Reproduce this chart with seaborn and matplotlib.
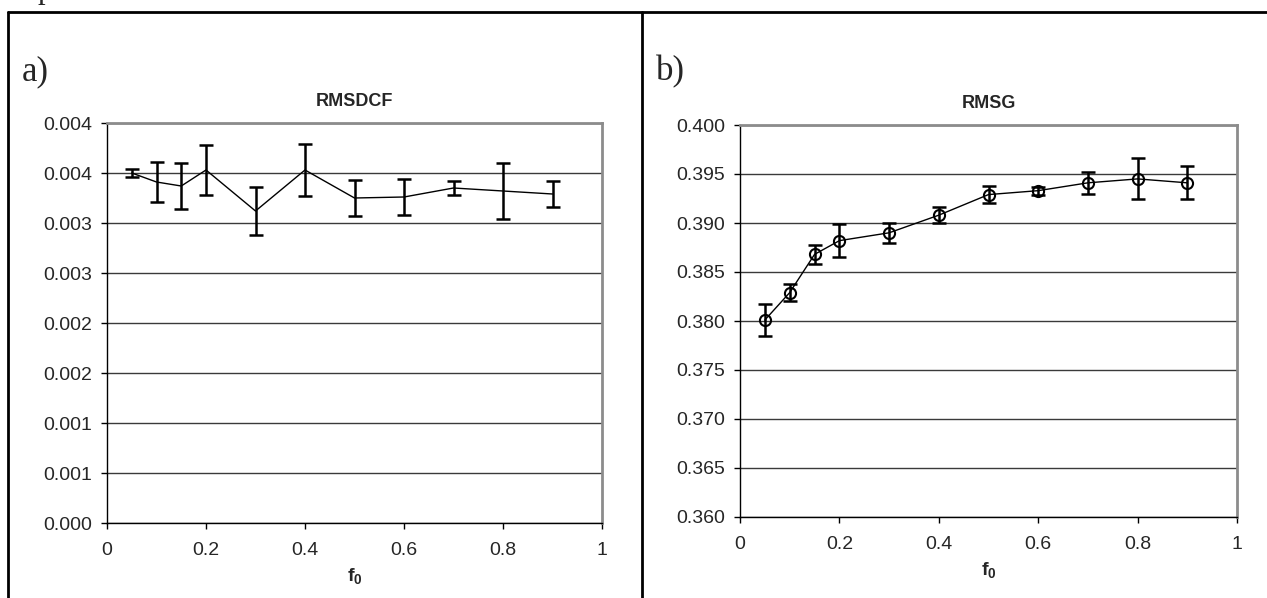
import numpy as np
import pandas as pd
import matplotlib
matplotlib.use("Agg")
import matplotlib.pyplot as plt
from matplotlib.lines import Line2D
import seaborn as sns

# ---------------- data ----------------
f0 = [0.05, 0.10, 0.15, 0.20, 0.30, 0.40, 0.50, 0.60, 0.70, 0.80, 0.90]

rmsdcf = [0.00350, 0.00341, 0.00337, 0.00353, 0.00312, 0.00353,
          0.00325, 0.00326, 0.00335, 0.00332, 0.00329]
rmsdcf_err = [0.00004, 0.00020, 0.00023, 0.00025, 0.00024, 0.00026,
              0.00018, 0.00018, 0.00007, 0.00028, 0.00013]

rmsg = [0.3801, 0.3829, 0.3868, 0.3882, 0.3890, 0.3908,
        0.3929, 0.3933, 0.3941, 0.3945, 0.3941]
rmsg_err = [0.0016, 0.0009, 0.0010, 0.0017, 0.0010, 0.0008,
            0.0009, 0.0004, 0.0011, 0.0021, 0.0017]

x_ticks = [0, 0.2, 0.4, 0.6, 0.8, 1.0]
x_ticklabels = ["0", "0.2", "0.4", "0.6", "0.8", "1"]

a_yticks = [0.0, 0.0005, 0.001, 0.0015, 0.002, 0.0025, 0.003, 0.0035, 0.004]
a_yticklabels = ["0.000", "0.001", "0.001", "0.002", "0.002",
                 "0.003", "0.003", "0.004", "0.004"]

b_yticks = [0.360, 0.365, 0.370, 0.375, 0.380, 0.385, 0.390, 0.395, 0.400]
b_yticklabels = ["0.360", "0.365", "0.370", "0.375", "0.380",
                 "0.385", "0.390", "0.395", "0.400"]

titles = ["RMSDCF", "RMSG"]
panel_labels = ["a)", "b)"]
xlabel = r"$\mathbf{f_0}$"

# ---------------- style ----------------
sns.set_style("white")
plt.rcParams["font.family"] = ["Liberation Sans", "DejaVu Sans"]
plt.rcParams["mathtext.fontset"] = "custom"
plt.rcParams["mathtext.bf"] = "Liberation Sans:bold"
plt.rcParams["mathtext.rm"] = "Liberation Sans"

W, H = 1267, 598
fig = plt.figure(figsize=(W / 100, H / 100), dpi=100)
fig.patch.set_facecolor("white")


def rect(x0, y0, x1, y1):
    return [x0 / W, 1 - y1 / H, (x1 - x0) / W, (y1 - y0) / H]


ax1 = fig.add_axes(rect(107, 123, 602, 523))
ax2 = fig.add_axes(rect(740, 125, 1237, 517))

df_a = pd.DataFrame({"f0": f0, "val": rmsdcf})
df_b = pd.DataFrame({"f0": f0, "val": rmsg})

# panel a
sns.lineplot(data=df_a, x="f0", y="val", ax=ax1, color="black", lw=1.0)
ax1.errorbar(f0, rmsdcf, yerr=rmsdcf_err, fmt="none", ecolor="black",
             elinewidth=1.8, capsize=5, capthick=1.8, zorder=3)
ax1.set_ylim(0, 0.004)
ax1.set_yticks(a_yticks)
ax1.set_yticklabels(a_yticklabels)

# panel b
sns.lineplot(data=df_b, x="f0", y="val", ax=ax2, color="black", lw=1.0,
             marker="o", markersize=8, markerfacecolor="none",
             markeredgecolor="black", markeredgewidth=1.5)
ax2.errorbar(f0, rmsg, yerr=rmsg_err, fmt="none", ecolor="black",
             elinewidth=1.8, capsize=5, capthick=1.8, zorder=3)
ax2.set_ylim(0.360, 0.400)
ax2.set_yticks(b_yticks)
ax2.set_yticklabels(b_yticklabels)

for ax, title in zip([ax1, ax2], titles):
    ax.set_xlim(0, 1)
    ax.set_xticks(x_ticks)
    ax.set_xticklabels(x_ticklabels)
    ax.set_title(title, fontsize=13, fontweight="bold", pad=12)
    ax.set_xlabel(xlabel, fontsize=14, labelpad=5)
    ax.set_ylabel("")
    ax.yaxis.grid(True, color="#3a3a3a", lw=1.0)
    ax.xaxis.grid(False)
    ax.set_axisbelow(True)
    ax.tick_params(axis="both", direction="out", length=4.5, width=1,
                   color="black", labelsize=14, pad=6,
                   bottom=True, left=True)
    ax.tick_params(axis="x", pad=9)
    for s in ["top", "right"]:
        ax.spines[s].set_color("#8c8c8c")
        ax.spines[s].set_linewidth(2)
    for s in ["left", "bottom"]:
        ax.spines[s].set_color("black")
        ax.spines[s].set_linewidth(1)

# panel labels
serif = ["Liberation Serif", "DejaVu Serif"]
fig.text(22 / W, 1 - 72 / H, panel_labels[0], fontsize=25,
         family=serif, va="center", ha="left")
fig.text(656 / W, 1 - 72 / H, panel_labels[1], fontsize=25,
         family=serif, va="center", ha="left")
# fragment of text from the line above
fig.text(38 / W, 1 + 2 / H, "p", fontsize=22,
         family=serif, va="baseline", ha="left")

# table border lines
lw_b = 2.0
fig.add_artist(Line2D([8 / W, 1.0], [1 - 12 / H, 1 - 12 / H],
                      color="black", lw=lw_b, transform=fig.transFigure))
fig.add_artist(Line2D([8 / W, 8 / W], [0, 1 - 12 / H],
                      color="black", lw=lw_b, transform=fig.transFigure))
fig.add_artist(Line2D([642 / W, 642 / W], [0, 1 - 12 / H],
                      color="black", lw=lw_b, transform=fig.transFigure))

fig.savefig("out.png", dpi=100, facecolor="white")
